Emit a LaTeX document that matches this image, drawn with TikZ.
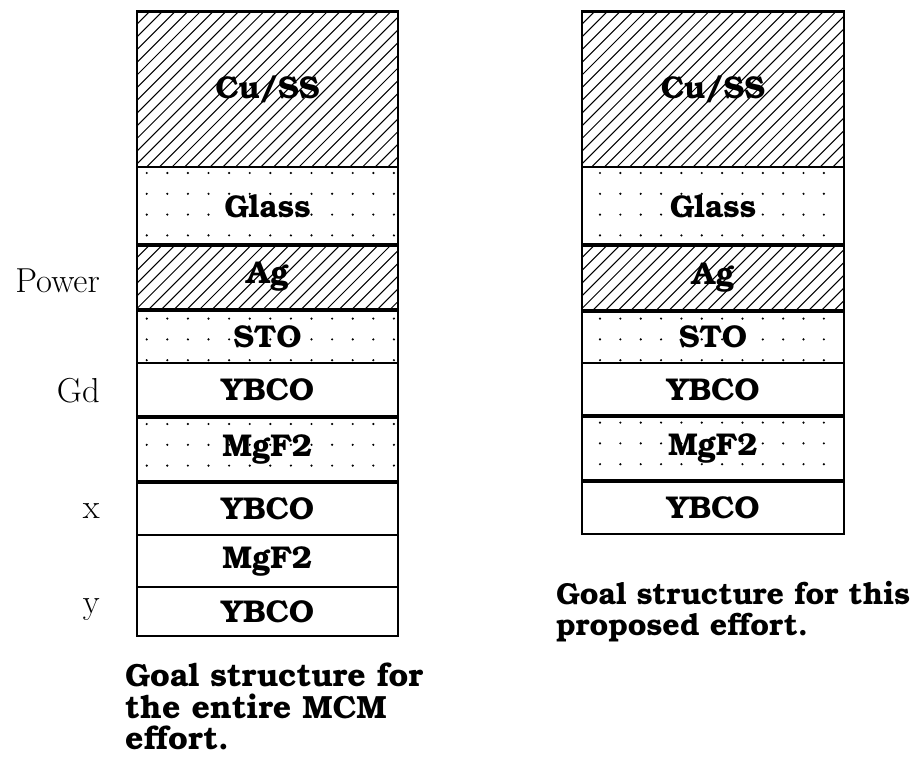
\documentclass[tikz,border=0pt]{standalone}
\usepackage{fontspec}
\newfontfamily\bonumbf{texgyrebonum-bold.otf}
\newlength\tmpw
\settowidth\tmpw{\bonumbf\fontsize{10}{12}\selectfont YBCO}
\pgfmathsetmacro\laysize{10*93/\tmpw}
\settowidth\tmpw{\bonumbf\fontsize{10}{12}\selectfont Goal structure for}
\pgfmathsetmacro\capsize{10*298/\tmpw}
\settowidth\tmpw{\bonumbf\fontsize{10}{12}\selectfont Goal structure for this}
\pgfmathsetmacro\capsizeR{10*354/\tmpw}
\settowidth\tmpw{\fontsize{10}{12}\selectfont Power}
\pgfmathsetmacro\sidesize{10*92/\tmpw}
\begin{document}
\newcommand\hatchbox[4]{%
  \begin{scope}
    \clip (#1,#2) rectangle (#3,#4);
    \pgfmathsetmacro\hh{#4-#2}
    \foreach \xx in {0,12.7,...,440} \draw[hatchln] ({#1-\hh+\xx},#4) -- ++(\hh,-\hh);
  \end{scope}}
\newcommand\dotbox[8]{% x1 y1 x2 y2 xstart dx ncols rowlist
  \begin{scope}
    \clip (#1,#2) rectangle (#3,#4);
    \foreach \i in {0,...,#7} \foreach \yy in {#8} \fill ({#5+\i*#6},\yy) circle (1.2);
  \end{scope}}
\begin{tikzpicture}[x=1pt,y=-1pt,
  hatchln/.style={line width=1.05pt},
  lay/.style={font=\bonumbf\fontsize{\laysize}{\laysize}\selectfont, inner sep=0pt},
  side/.style={font=\fontsize{\sidesize}{\sidesize}\selectfont, anchor=east, inner sep=0pt},
  captxt/.style={font=\bonumbf\fontsize{\capsize}{\capsize}\selectfont, anchor=base west, inner sep=0pt},
  captxtR/.style={font=\bonumbf\fontsize{\capsizeR}{\capsizeR}\selectfont, anchor=base west, inner sep=0pt},
  sepln/.style={line width=#1}]
\useasboundingbox (0,0) rectangle (916,757);
\fill[white] (0,0) rectangle (916,757);

% ---------- left stack ----------
\hatchbox{137}{11.5}{398}{167}
\hatchbox{137}{245}{398}{310}
\dotbox{137}{167}{398}{245}{146.7}{20.6}{12}{173,193.8,214.6,235.4}
\dotbox{137}{310}{398}{363}{146.7}{20.6}{12}{318.6,339.4,360.2}
\dotbox{137}{417}{398}{482}{146.7}{20.6}{12}{424,444.8,465.6}
\draw[line width=2.5pt] (137,11.5) rectangle (398,636);
\draw[sepln=2.7pt] (137,167) -- (398,167);
\draw[sepln=4pt] (137,245) -- (398,245);
\draw[sepln=3.3pt] (137,310) -- (398,310);
\draw[sepln=2pt] (137,363) -- (398,363);
\draw[sepln=4pt] (137,417) -- (398,417);
\draw[sepln=4pt] (137,482) -- (398,482);
\draw[sepln=2pt] (137,535) -- (398,535);
\draw[sepln=2.5pt] (137,587) -- (398,587);

\node[lay] (lcu) at (267.5,89) {Cu/SS};
\node[lay] (lgl) at (267.5,206) {Glass};
\node[lay] (lag) at (267.5,277) {Ag};
\node[lay] (lsto) at (267.5,336.5) {STO};
\node[lay] (ly1) at (267.5,390) {YBCO};
\node[lay] (lmg1) at (267.5,449.5) {MgF2};
\node[lay] (ly2) at (267.5,508.5) {YBCO};
\node[lay] (lmg2) at (267.5,561) {MgF2};
\node[lay] (ly3) at (267.5,611.5) {YBCO};

\node[side] (power) at (100,281) {Power};
\node[side] (gd) at (100,391) {Gd};
\node[side] (xl) at (100,511) {x};
\node[side] (yl) at (100,610) {y};

\node[captxt] (lcap1) at (125,686) {Goal structure for};
\node[captxt] (lcap2) at (125,718) {the entire MCM};
\node[captxt] (lcap3) at (125,749) {effort.};

% ---------- right stack ----------
\hatchbox{582}{11.5}{844}{167}
\hatchbox{582}{245}{844}{311}
\dotbox{582}{167}{844}{245}{600}{20.35}{11}{173,193.8,214.6,235.4}
\dotbox{582}{311}{844}{363}{600}{20.35}{11}{318.6,339.4,360.2}
\dotbox{582}{416}{844}{481}{600}{20.35}{11}{422.6,443.4,464.2}
\draw[line width=2.5pt] (582,11.5) rectangle (844,534);
\draw[sepln=2.7pt] (582,167) -- (844,167);
\draw[sepln=4pt] (582,245) -- (844,245);
\draw[sepln=3.5pt] (582,311) -- (844,311);
\draw[sepln=2.2pt] (582,363) -- (844,363);
\draw[sepln=3.5pt] (582,416) -- (844,416);
\draw[sepln=4pt] (582,481) -- (844,481);

\node[lay] (rcu) at (713,89) {Cu/SS};
\node[lay] (rgl) at (713,206) {Glass};
\node[lay] (rag) at (713,278) {Ag};
\node[lay] (rsto) at (713,337) {STO};
\node[lay] (ry1) at (713,389.5) {YBCO};
\node[lay] (rmg) at (713,448.5) {MgF2};
\node[lay] (ry2) at (713,507.5) {YBCO};

\node[captxtR] (rcap1) at (556,604) {Goal structure for this};
\node[captxtR] (rcap2) at (556,635) {proposed effort.};
\end{tikzpicture}
\end{document}
